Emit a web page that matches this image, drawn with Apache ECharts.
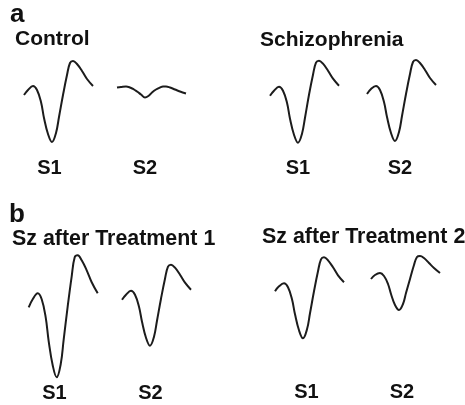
<!DOCTYPE html>
<html>
<head>
<meta charset="utf-8">
<script src="https://cdn.jsdelivr.net/npm/echarts@6/dist/echarts.min.js"></script>
<style>
  html, body { margin: 0; padding: 0; background: #fff; }
  #chart { width: 465px; height: 405px; }
</style>
</head>
<body>
<div id="chart"></div>
<script>
// sample times (ms, relative) shared by all averaged waveforms
const times = [0, 4, 9, 13, 17, 20, 24, 28, 32, 35, 39, 43, 46, 49, 53, 58, 63, 69];

// amplitudes relative to the first sample (arbitrary µV, up = positive)
const controlS1 = [0, 5, 9, 5, -7, -23, -39, -47, -38, -22, 0, 20, 32, 34, 31, 24, 16, 9];
const controlS2 = [0, 0.5, 1, 0, -2, -4, -7, -10, -8, -5, -2, 0, 1, 1, 0, -2, -4, -6];
const schizS1 = [0, 5, 9, 5, -7, -23, -39, -47, -38, -22, 1, 21, 33, 35, 32, 25, 17, 10];
const schizS2 = [0, 5, 8, 4, -8, -23, -39, -47, -38, -22, 0, 20, 32, 34, 31, 24, 16, 9];
const treat1S1 = [0, 8, 14, 8, -10, -34, -58, -70, -57, -32, 1, 31, 50, 52, 47, 37, 25, 14];
const treat1S2 = [0, 5, 9, 5, -7, -22, -38, -46, -37, -21, 1, 21, 33, 35, 32, 25, 17, 10];
const treat2S1 = [0, 5, 8, 4, -8, -23, -39, -47, -38, -22, 0, 20, 32, 34, 31, 24, 16, 9];
const treat2S2 = [0, 4, 6, 3, -5, -15, -26, -31, -25, -14, 0, 14, 22, 23, 21, 16, 11, 6];

const panelLetters = ['a', 'b'];
const groupTitles = ['Control', 'Schizophrenia', 'Sz after Treatment 1', 'Sz after Treatment 2'];
const stimLabels = ['S1', 'S2'];

const waves = [controlS1, controlS2, schizS1, schizS2, treat1S1, treat1S2, treat2S1, treat2S2];

// grid placement: left edge and top for each waveform (y=0 sits 55px below top)
const gridPos = [
  [24, 40], [117, 32.5], [270, 40.7], [367, 39],
  [28.7, 252.3], [122, 244.7], [275, 236.3], [371, 224]
];

const font = '"Liberation Sans", Arial, sans-serif';
const ink = '#111111';

const chart = echarts.init(document.getElementById('chart'));

const grids = gridPos.map(p => ({ left: p[0], top: p[1], width: 69, height: 130 }));
const xAxes = waves.map((w, i) => ({ type: 'value', gridIndex: i, min: 0, max: 69, show: false }));
const yAxes = waves.map((w, i) => ({ type: 'value', gridIndex: i, min: -75, max: 55, show: false }));
const series = waves.map((w, i) => ({
  type: 'line',
  xAxisIndex: i,
  yAxisIndex: i,
  data: times.map((t, k) => [t, w[k]]),
  smooth: 0.4,
  symbol: 'none',
  clip: false,
  silent: true,
  lineStyle: { color: '#1c1c1c', width: 2 }
}));

function txt(text, x, y, size, align) {
  return {
    type: 'text',
    x: x,
    y: y,
    silent: true,
    style: {
      text: text,
      fill: ink,
      font: 'bold ' + size + 'px ' + font,
      textAlign: align || 'left',
      textVerticalAlign: 'middle'
    }
  };
}

const labelPos = [
  [49.5, 168.5], [145, 168.5], [298, 168.5], [400, 168.5],
  [54.5, 393.5], [150.5, 393.5], [306.5, 392.5], [402, 392.5]
];

const graphics = [
  txt(panelLetters[0], 10, 15, 26),
  txt(panelLetters[1], 9, 215, 26),
  txt(groupTitles[0], 15, 39.5, 21),
  txt(groupTitles[1], 260, 40.5, 21),
  txt(groupTitles[2], 12, 239.5, 21.4),
  txt(groupTitles[3], 262, 237.5, 21.4)
];
labelPos.forEach((p, i) => {
  graphics.push(txt(stimLabels[i % 2], p[0], p[1], 20, 'center'));
});

chart.setOption({
  backgroundColor: '#ffffff',
  animation: false,
  grid: grids,
  xAxis: xAxes,
  yAxis: yAxes,
  series: series,
  graphic: graphics
});
</script>
</body>
</html>
